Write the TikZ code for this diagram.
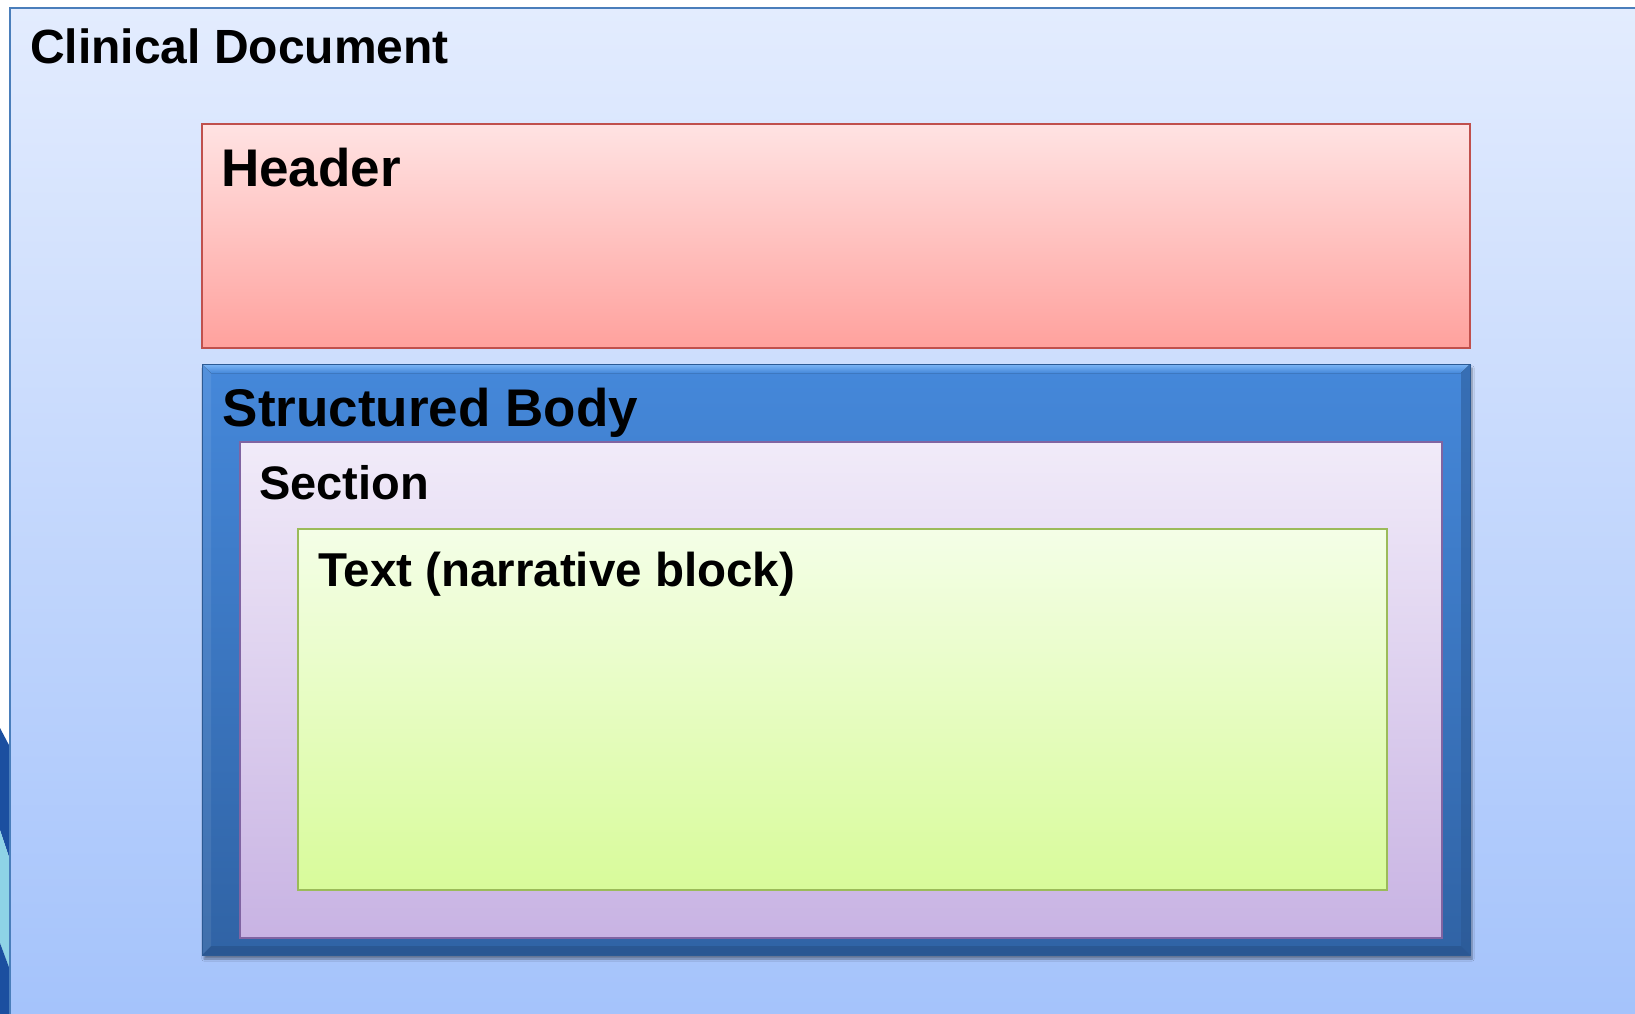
\documentclass[tikz,border=0pt]{standalone}
\usepackage{fontspec}
\setmainfont{Liberation Sans}
\usetikzlibrary{shadows.blur}
\definecolor{outerTop}{HTML}{E3ECFE}
\definecolor{outerBot}{HTML}{A3C2FB}
\definecolor{outerLine}{HTML}{4A7EBB}
\definecolor{hdrTop}{HTML}{FFE3E3}
\definecolor{hdrBot}{HTML}{FFA19D}
\definecolor{hdrLine}{HTML}{C0504D}
\definecolor{bodyTop}{HTML}{4588DA}
\definecolor{bodyBot}{HTML}{3063A5}
\definecolor{bodyLine}{HTML}{2C5A94}
\definecolor{bevLight}{HTML}{7DB6F6}
\definecolor{bevDark}{HTML}{2A5690}
\definecolor{secTop}{HTML}{F1EBF9}
\definecolor{secBot}{HTML}{C8B3E3}
\definecolor{secLine}{HTML}{8064A2}
\definecolor{txtTop}{HTML}{F4FEE7}
\definecolor{txtBot}{HTML}{D8FB9A}
\definecolor{txtLine}{HTML}{9BBB59}
\definecolor{decoDark}{HTML}{1B4FA0}
\definecolor{decoCyan}{HTML}{8ED3E6}
\tikzset{
  box/.style={rectangle, inner sep=0pt, outer sep=0pt, line width=2.5pt},
  lbl/.style={anchor=base west, inner sep=0pt, font=\bfseries},
}
\begin{document}
\begin{tikzpicture}[x=1pt,y=-1pt]
\useasboundingbox (0,0) rectangle (1635,1014);
\clip (0,0) rectangle (1635,1014);
\fill[white] (0,0) rectangle (1635,1014);
% left decoration
\fill[white] (0,0) -- (10,0) -- (10,747) -- (0,728) -- cycle;
\fill[decoDark] (0,728) -- (10,747) -- (10,860) -- (0,830) -- cycle;
\fill[decoCyan] (0,830) -- (10,860) -- (10,970) -- (0,943) -- cycle;
\fill[decoDark] (0,943) -- (10,970) -- (10,1014) -- (0,1014) -- cycle;
% outer clinical document
\node[box, draw=outerLine, top color=outerTop, bottom color=outerBot,
      minimum width=1660, minimum height=1030] (doc) at (840,523) {};
\node[lbl, font=\bfseries\fontsize{48}{58}\selectfont] (doclbl) at (30,64) {Clinical Document};
% header
\node[box, draw=hdrLine, top color=hdrTop, bottom color=hdrBot,
      minimum width=1268, minimum height=224] (hdr) at (836,236) {};
\node[lbl, font=\bfseries\fontsize{53}{63}\selectfont] (hdrlbl) at (221,186) {Header};
% structured body
\node[box, line width=1pt, draw=bodyLine, top color=bodyTop, bottom color=bodyBot,
      minimum width=1268, minimum height=591,
      blur shadow={shadow xshift=2pt, shadow yshift=-4pt, shadow blur steps=6, shadow opacity=40}] (body) at (836,659.5) {};
\fill[top color=bevLight, bottom color=bodyTop] (body.north west) -- (body.north east) -- ([xshift=-9,yshift=-9]body.north east) -- ([xshift=9,yshift=-9]body.north west) -- cycle;
\fill[bevDark, opacity=0.85] (body.south west) -- (body.south east) -- ([xshift=-9,yshift=9]body.south east) -- ([xshift=9,yshift=9]body.south west) -- cycle;
\fill[bevDark, opacity=0.5] (body.north east) -- (body.south east) -- ([xshift=-9,yshift=9]body.south east) -- ([xshift=-9,yshift=-9]body.north east) -- cycle;
\fill[white, opacity=0.08] (body.north west) -- (body.south west) -- ([xshift=9,yshift=9]body.south west) -- ([xshift=9,yshift=-9]body.north west) -- cycle;
\draw[bodyLine, line width=1pt] (body.north west) rectangle (body.south east);
\node[lbl, font=\bfseries\fontsize{53}{63}\selectfont] (bodylbl) at (222.5,426) {Structured Body};
% section
\node[box, draw=secLine, top color=secTop, bottom color=secBot,
      minimum width=1202, minimum height=496] (sec) at (841,690) {};
\node[lbl, font=\bfseries\fontsize{47}{57}\selectfont] (seclbl) at (259,499) {Section};
% text narrative block
\node[box, draw=txtLine, top color=txtTop, bottom color=txtBot,
      minimum width=1089, minimum height=361] (txt) at (842.5,709.5) {};
\node[lbl, font=\bfseries\fontsize{47.5}{57}\selectfont] (txtlbl) at (318,586) {Text (narrative block)};
\end{tikzpicture}
\end{document}
